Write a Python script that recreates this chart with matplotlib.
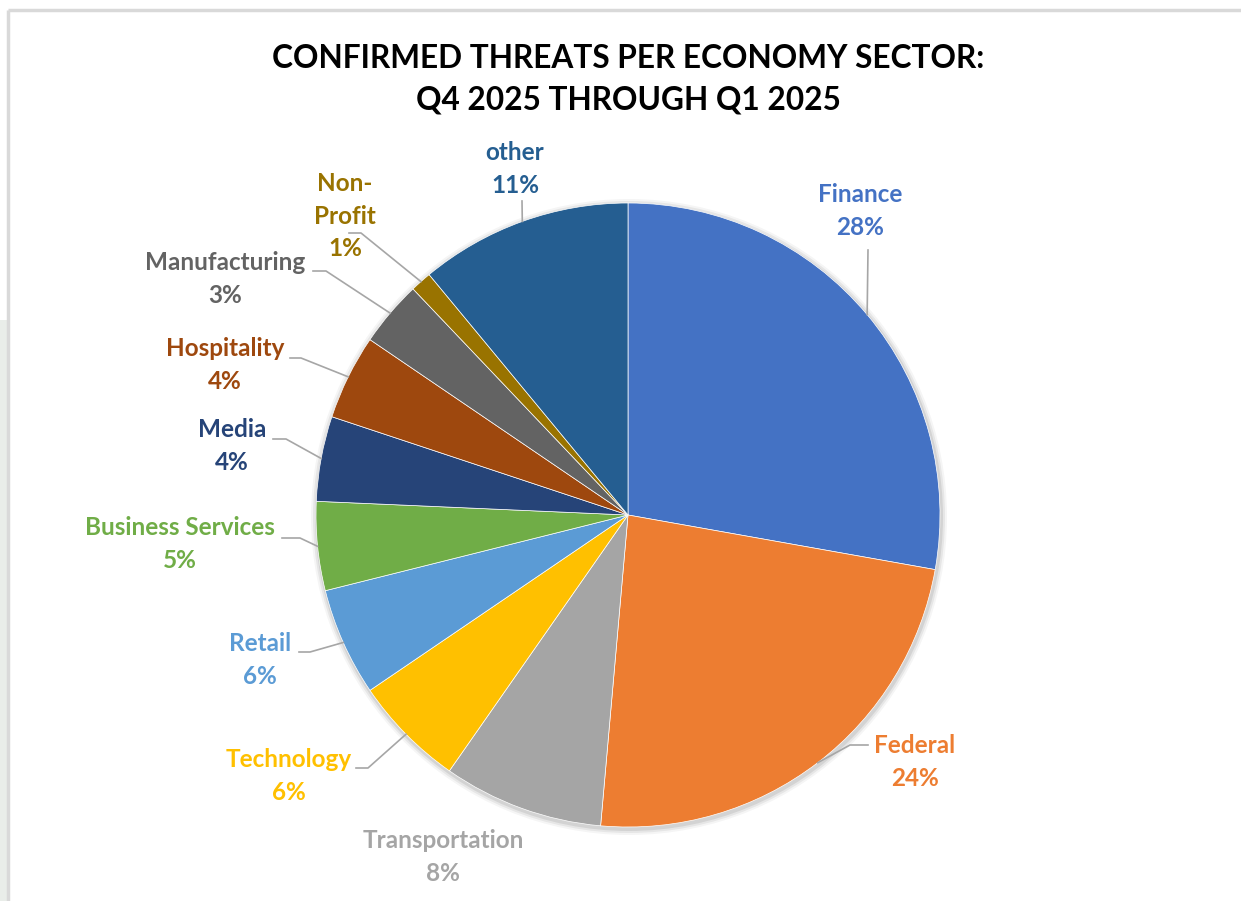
import numpy as np
import matplotlib
matplotlib.use('Agg')
import matplotlib.pyplot as plt
from matplotlib.patches import Circle, Rectangle

# data
sectors = ['Finance', 'Federal', 'Transportation', 'Technology', 'Retail',
           'Business Services', 'Media', 'Hospitality', 'Manufacturing',
           'Non-\nProfit', 'other']
shares = [27.8, 23.6, 8.3, 5.8, 5.6, 4.6, 4.4, 4.4, 3.4, 1.1, 11.0]
colors = ['#4472C4', '#ED7D31', '#A5A5A5', '#FFC000', '#5B9BD5', '#70AD47',
          '#264478', '#9E480E', '#636363', '#997300', '#255E91']
title = 'CONFIRMED THREATS PER ECONOMY SECTOR:\nQ4 2025 THROUGH Q1 2025'

# layout (pixel coords, y from top): label centre, leader start (None = no leader)
W, H = 1241, 901
cx, cy, R = 628, 515, 312
label_pos = [(860, 211), (915, 762), (443, 857), (289, 776), (260, 660),
             (180, 544), (232, 446), (225, 365), (225, 279), (345, 216), (515, 169)]
leader_start = [[(868, 250)], [(868, 745), (850, 745)], None,
                [(356, 768), (368, 768)], [(299, 652), (310, 652)],
                [(282, 538), (300, 538)], [(273, 439), (286, 439)],
                [(290, 358), (301, 358)], [(313, 271), (326, 271)],
                [(349, 233), (361, 233)], [(522, 201)]]

plt.rcParams['font.family'] = ['Lato', 'DejaVu Sans']

fig = plt.figure(figsize=(W / 100, H / 100), dpi=100)
ax = fig.add_axes([0, 0, 1, 1])

def fy(y):
    return H - y

# frame
ax.plot([8, W], [fy(10), fy(10)], color='#D9D9D9', lw=2.5, solid_capstyle='butt')
ax.plot([8, 8], [fy(10), 0], color='#D9D9D9', lw=2.5, solid_capstyle='butt')
ax.add_patch(Rectangle((0, 0), 7, fy(320), color='#E9EDE9', lw=0))

# soft shadow
for k, a in [(6, 0.04), (4, 0.06), (2, 0.08)]:
    ax.add_patch(Circle((cx + 1, fy(cy) - 2), R + k, color='#000000', alpha=a, lw=0))

wedges, _ = ax.pie(shares, colors=colors, startangle=90, counterclock=False,
                   center=(cx, fy(cy)), radius=R, frame=True,
                   wedgeprops=dict(edgecolor='white', linewidth=0.5))
ax.set_xlim(0, W)
ax.set_ylim(0, H)
ax.set_aspect('equal')
ax.axis('off')

# labels and leaders
total = sum(shares)
cum = np.cumsum([0] + shares[:-1])
for i, (name, v) in enumerate(zip(sectors, shares)):
    mid = np.deg2rad(90 - (cum[i] + v / 2) / total * 360)
    ex, ey = cx + R * np.cos(mid), fy(cy) + R * np.sin(mid)
    lx, ly = label_pos[i]
    ax.text(lx, fy(ly), f'{name}\n{v / total * 100:.0f}%', ha='center', va='center',
            fontsize=17.5, fontweight='bold', color=colors[i], linespacing=1.5)
    if leader_start[i]:
        xs = [p[0] for p in leader_start[i]] + [ex]
        ys = [fy(p[1]) for p in leader_start[i]] + [ey]
        ax.plot(xs, ys, color='#A6A6A6', lw=1.2)

ax.text(628, fy(79), title, ha='center', va='center', fontsize=22.8,
        fontweight='bold', color='black', linespacing=1.5)

fig.savefig('out.png', dpi=100)
